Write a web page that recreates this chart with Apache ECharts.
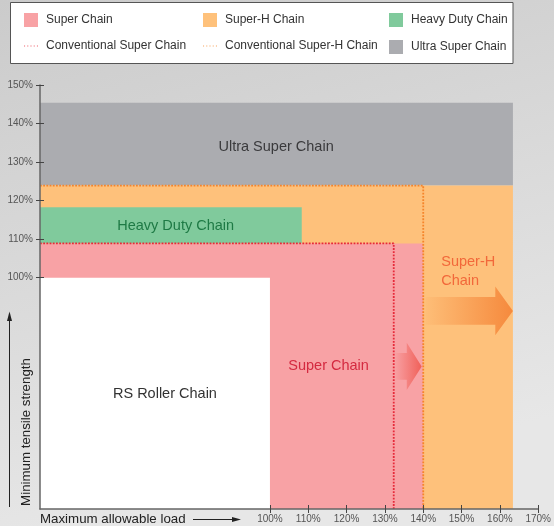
<!DOCTYPE html>
<html>
<head>
<meta charset="utf-8">
<script src="https://cdn.jsdelivr.net/npm/echarts@6/dist/echarts.min.js"></script>
<style>html,body{margin:0;padding:0;}#c{width:554px;height:526px;}</style>
</head>
<body>
<div id="c"></div>
<script>
// ---- data (percent values) ----
const xRange = [40, 170];
const yRange = [40, 150];
const xTicks = [100, 110, 120, 130, 140, 150, 160, 170];
const yTicks = [100, 110, 120, 130, 140, 150];
// regions: [load from, load to, strength from, strength to]
const ultraSuper = [40, 163.4, 123.9, 145.4];
const superH = [40, 163.4, 40, 123.9];
const heavyDuty = [40, 108.3, 108.9, 118.3];
const superChain = [40, 140, 40, 108.9];
const rsRoller = [40, 100, 40, 100];
// conventional limits (dotted outlines)
const convSuper = [[40, 108.9], [132.3, 108.9], [132.3, 40]];
const convSuperH = [[40, 123.9], [140, 123.9], [140, 40]];
// arrows: [shaft start, head start, tip, centre strength, shaft half, head half]
const superHArrow = [140.6, 158.8, 163.4, 91.4, 3.6, 6.3];
const superArrow = [132.4, 135.7, 139.6, 77.0, 3.5, 6.1];
// region captions: [load, strength, text]
const captions = [
  [101.6, 133.9, 'Ultra Super Chain'],
  [75.4, 113.3, 'Heavy Duty Chain'],
  [115.3, 77.2, 'Super Chain'],
  [72.6, 69.8, 'RS Roller Chain'],
  [144.7, 104.2, 'Super-H'],
  [144.7, 99.2, 'Chain']
];

const FONT = '"Liberation Sans", Arial, Helvetica, sans-serif';
const captionColors = ['#3a3a3c', '#1e7a45', '#d42a40', '#333333', '#f2683a', '#f2683a'];
const captionAlign = ['center', 'center', 'center', 'center', 'left', 'left'];
const DOTS = 'path://M0,0h1v1h-1zM3,0h1v1h-1zM6,0h1v1h-1zM9,0h1v1h-1zM12,0h1v1h-1z';

function rectSeries(name, region, color) {
  return {
    type: 'custom', name: name,
    itemStyle: { color: color },
    data: [region],
    encode: { x: [0, 1], y: [2, 3] },
    silent: true,
    renderItem: function (params, api) {
      const p0 = api.coord([api.value(0), api.value(3)]);
      const p1 = api.coord([api.value(1), api.value(2)]);
      return { type: 'rect', shape: { x: p0[0], y: p0[1], width: p1[0] - p0[0], height: p1[1] - p0[1] }, style: { fill: color } };
    }
  };
}

function arrowSeries(arr, c0, c1) {
  return {
    type: 'custom', data: [arr], silent: true, z: 3,
    encode: { x: [0, 2], y: 3 },
    renderItem: function (params, api) {
      const s = api.value(0), h = api.value(1), t = api.value(2), cy = api.value(3), sh = api.value(4), hh = api.value(5);
      const pts = [[s, cy + sh], [h, cy + sh], [h, cy + hh], [t, cy], [h, cy - hh], [h, cy - sh], [s, cy - sh]].map(p => api.coord(p));
      return {
        type: 'polygon', shape: { points: pts },
        style: { fill: { type: 'linear', x: 0, y: 0, x2: 1, y2: 0, colorStops: [{ offset: 0, color: c0 }, { offset: 1, color: c1 }] } }
      };
    }
  };
}

function lineSeries(name, pts, color) {
  return {
    type: 'line', name: name, data: pts, symbol: 'none', silent: true, z: 4,
    itemStyle: { color: color },
    lineStyle: { color: color, width: 1.8, type: [1.8, 1.4] }
  };
}

const chart = echarts.init(document.getElementById('c'));
const legendBase = {
  orient: 'vertical', top: 13, itemWidth: 14, itemHeight: 14, itemGap: 13, padding: 0, z: 6,
  selectedMode: false,
  textStyle: { fontSize: 12, color: '#333', fontFamily: FONT, padding: [0, 0, 0, 3] }
};
function lineLegend(name, color) {
  return { name: name, icon: DOTS, itemStyle: { color: color, opacity: 0.75 }, lineStyle: { opacity: 0 } };
}

const option = {
  animation: false,
  backgroundColor: { type: 'linear', x: 0, y: 0, x2: 0.25, y2: 1, colorStops: [{ offset: 0, color: '#cbcbcb' }, { offset: 1, color: '#e7e7e7' }] },
  textStyle: { fontFamily: FONT },
  grid: { left: 40, right: 14, top: 85, bottom: 17, containLabel: false },
  legend: [
    Object.assign({}, legendBase, { left: 24, data: [{ name: 'Super Chain', icon: 'rect' }, lineLegend('Conventional Super Chain', '#e8323f')] }),
    Object.assign({}, legendBase, { left: 203, data: [{ name: 'Super-H Chain', icon: 'rect' }, lineLegend('Conventional Super-H Chain', '#f58a2e')] }),
    Object.assign({}, legendBase, { left: 389, data: [{ name: 'Heavy Duty Chain', icon: 'rect' }, { name: 'Ultra Super Chain', icon: 'rect' }] })
  ],
  xAxis: [
    {
      type: 'value', min: xRange[0], max: xRange[1], position: 'bottom', z: 10,
      axisLine: { show: true, onZero: false, lineStyle: { color: '#666', width: 1.5 } },
      axisTick: { show: true, customValues: xTicks, length: 4, lineStyle: { color: '#444' } },
      axisLabel: { customValues: xTicks, formatter: '{value}%', fontSize: 10, color: '#555', margin: 5 },
      splitLine: { show: false }
    },
    {
      type: 'value', min: xRange[0], max: xRange[1], position: 'bottom', z: 10,
      axisLine: { show: false, onZero: false },
      axisTick: { show: true, inside: true, customValues: xTicks, length: 4, lineStyle: { color: '#444' } },
      axisLabel: { show: false }, splitLine: { show: false }
    }
  ],
  yAxis: [
    {
      type: 'value', min: yRange[0], max: yRange[1], position: 'left', z: 10,
      axisLine: { show: true, onZero: false, lineStyle: { color: '#666', width: 1.5 } },
      axisTick: { show: true, customValues: yTicks, length: 4, lineStyle: { color: '#444' } },
      axisLabel: { customValues: yTicks, formatter: '{value}%', fontSize: 10, color: '#555', margin: 7 },
      splitLine: { show: false }
    },
    {
      type: 'value', min: yRange[0], max: yRange[1], position: 'left', z: 10,
      axisLine: { show: false, onZero: false },
      axisTick: { show: true, inside: true, customValues: yTicks, length: 4, lineStyle: { color: '#444' } },
      axisLabel: { show: false }, splitLine: { show: false }
    }
  ],
  series: [
    rectSeries('Ultra Super Chain', ultraSuper, '#abacb0'),
    rectSeries('Super-H Chain', superH, '#fec17b'),
    rectSeries('Heavy Duty Chain', heavyDuty, '#80ca9c'),
    rectSeries('Super Chain', superChain, '#f8a2a5'),
    rectSeries('RS Roller Chain', rsRoller, '#ffffff'),
    lineSeries('Conventional Super Chain', convSuper, '#e62a3a'),
    lineSeries('Conventional Super-H Chain', convSuperH, '#f5842a'),
    arrowSeries(superHArrow, 'rgba(244,128,50,0.05)', 'rgba(244,128,50,0.85)'),
    arrowSeries(superArrow, 'rgba(238,80,70,0.0)', 'rgba(238,80,70,0.8)'),
    {
      type: 'custom', silent: true, z: 5,
      data: captions.map(c => [c[0], c[1]]),
      encode: { x: 0, y: 1 },
      renderItem: function (params, api) {
        const p = api.coord([api.value(0), api.value(1)]);
        const i = params.dataIndex;
        return {
          type: 'text', x: p[0], y: p[1],
          style: { text: captions[i][2], fill: captionColors[i], font: '14.5px ' + FONT, align: captionAlign[i], verticalAlign: 'middle' }
        };
      }
    }
  ],
  graphic: [
    { type: 'rect', z: 1, shape: { x: 10.5, y: 2.5, width: 502.5, height: 61 }, style: { fill: '#ffffff', stroke: '#555', lineWidth: 1 } },
    { type: 'text', z: 20, x: 40, y: 519, style: { text: 'Maximum allowable load', font: '13.3px ' + FONT, fill: '#222', verticalAlign: 'middle' } },
    { type: 'line', z: 20, shape: { x1: 193, y1: 519.5, x2: 233, y2: 519.5 }, style: { stroke: '#222', lineWidth: 1 } },
    { type: 'polygon', z: 20, shape: { points: [[232, 517], [241, 519.5], [232, 522]] }, style: { fill: '#222' } },
    { type: 'text', z: 20, x: 26, y: 432, rotation: Math.PI / 2, style: { text: 'Minimum tensile strength', font: '13.3px ' + FONT, fill: '#222', align: 'center', verticalAlign: 'middle' } },
    { type: 'line', z: 20, shape: { x1: 9.5, y1: 507, x2: 9.5, y2: 320 }, style: { stroke: '#222', lineWidth: 1 } },
    { type: 'polygon', z: 20, shape: { points: [[7, 321], [9.5, 311.5], [12, 321]] }, style: { fill: '#222' } }
  ]
};
chart.setOption(option);
</script>
</body>
</html>
